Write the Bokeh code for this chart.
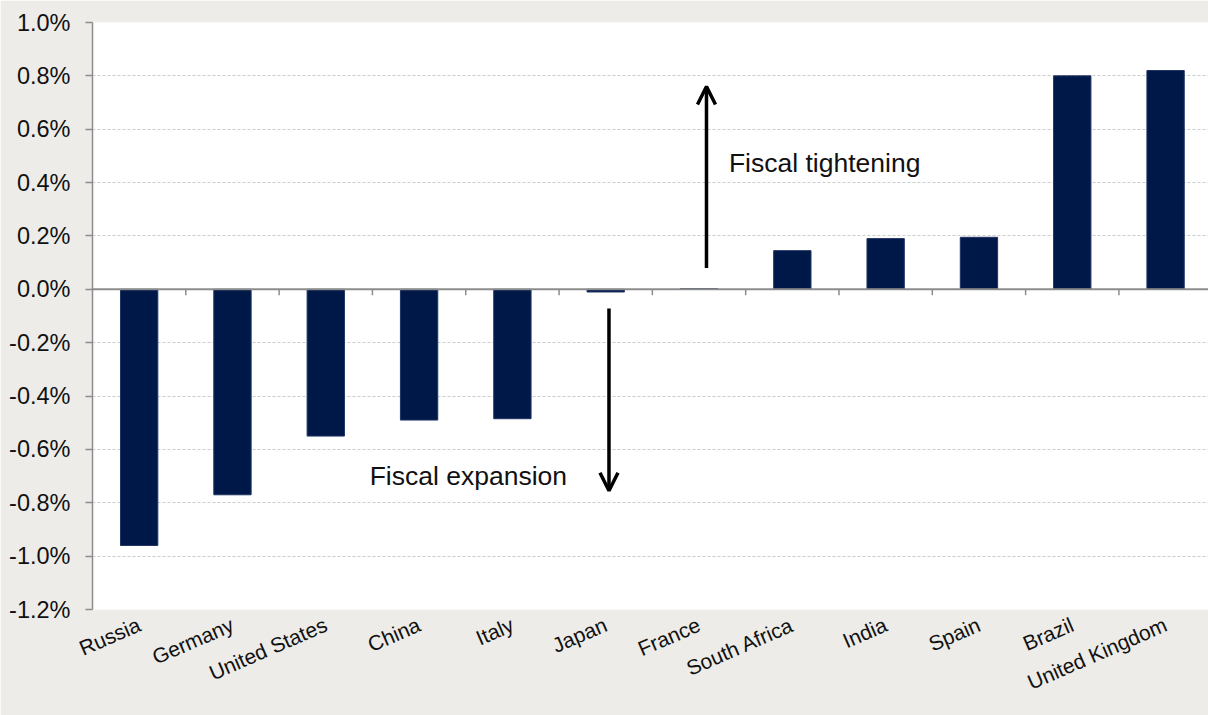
from bokeh.plotting import figure
from bokeh.models import (Range1d, FixedTicker, PrintfTickFormatter, Span,
                          Arrow, OpenHead, Label, ColumnDataSource)
from bokeh.embed import file_html
from bokeh.resources import INLINE

# ---- data ----
countries = ["Russia", "Germany", "United States", "China", "Italy", "Japan",
             "France", "South Africa", "India", "Spain", "Brazil", "United Kingdom"]
values = [-0.96, -0.77, -0.55, -0.49, -0.485, -0.01,
          0.003, 0.145, 0.19, 0.195, 0.80, 0.82]
y_ticks = [-1.2, -1.0, -0.8, -0.6, -0.4, -0.2, 0.0, 0.2, 0.4, 0.6, 0.8, 1.0]

# annotation anchors (data coordinates)
up_arrow = dict(x=6.08, y0=0.08, y1=0.76)
down_arrow = dict(x=5.035, y0=-0.072, y1=-0.755)
tight_label = dict(x=6.32, y=0.474, text="Fiscal tightening")
exp_label = dict(x=2.47, y=-0.70, text="Fiscal expansion")

BG = "#EDECE8"
NAVY = "#001848"
AXIS_GREY = "#8C8C8C"
FONT = "Liberation Sans"

idx = list(range(len(countries)))
src = ColumnDataSource(dict(x=idx, top=values, name=countries))

p = figure(width=1208, height=715, output_backend="svg", toolbar_location=None,
           x_range=Range1d(-0.5, len(countries) - 0.54),
           y_range=Range1d(y_ticks[0], y_ticks[-1]))
p.min_border_left = 92
p.min_border_top = 22
p.min_border_right = 0
p.min_border_bottom = 106
p.border_fill_color = BG
p.background_fill_color = "white"
p.outline_line_color = None

p.vbar(x="x", top="top", bottom=0, width=0.4, source=src,
       fill_color=NAVY, line_color="#1f3363", line_width=1)

# zero axis line with ticks between categories
p.add_layout(Span(location=0, dimension="width", line_color=AXIS_GREY, line_width=2))
bx = [i + 0.5 for i in idx[:-1]]
p.segment(x0=bx, x1=bx, y0=[0] * len(bx), y1=[-0.022] * len(bx),
          line_color=AXIS_GREY, line_width=1.5)

# y axis
p.yaxis.ticker = FixedTicker(ticks=y_ticks)
p.yaxis.formatter = PrintfTickFormatter(format="%.1f%%")
p.yaxis.axis_line_color = AXIS_GREY
p.yaxis.axis_line_width = 1.5
p.yaxis.major_tick_line_color = AXIS_GREY
p.yaxis.major_tick_line_width = 1.5
p.yaxis.major_tick_out = 7
p.yaxis.major_tick_in = 0
p.yaxis.minor_tick_line_color = None
p.yaxis.major_label_standoff = 15
p.yaxis.major_label_text_font = FONT
p.yaxis.major_label_text_font_size = "23.5px"
p.yaxis.major_label_text_color = "#111111"

# x axis (labels only, at bottom)
p.xaxis.ticker = FixedTicker(ticks=idx)
p.xaxis.major_label_overrides = {i: c for i, c in zip(idx, countries)}
p.xaxis.major_label_orientation = 0.41
p.xaxis.axis_line_color = None
p.xaxis.major_tick_line_color = None
p.xaxis.minor_tick_line_color = None
p.xaxis.major_tick_out = 0
p.xaxis.major_tick_in = 0
p.xaxis.major_label_standoff = 14
p.xaxis.major_label_text_font = FONT
p.xaxis.major_label_text_font_size = "21px"
p.xaxis.major_label_text_line_height = 1.0
p.xaxis.major_label_text_color = "#111111"

# grid
p.xgrid.grid_line_color = None
p.ygrid.ticker = FixedTicker(ticks=y_ticks)
p.ygrid.grid_line_color = "#C9CDCD"
p.ygrid.grid_line_dash = "3 2"
p.ygrid.grid_line_width = 1

# arrows
for a in (up_arrow, down_arrow):
    p.add_layout(Arrow(end=OpenHead(size=18, line_width=3.5, line_color="black"),
                       x_start=a["x"], y_start=a["y0"],
                       x_end=a["x"], y_end=a["y1"],
                       line_width=3.5, line_color="black"))

for lab in (tight_label, exp_label):
    p.add_layout(Label(x=lab["x"], y=lab["y"], text=lab["text"],
                       text_font=FONT, text_font_size="26.5px",
                       text_color="#111111", text_baseline="alphabetic",
                       text_align="left"))

open("out.html", "w").write(file_html(p, INLINE))
